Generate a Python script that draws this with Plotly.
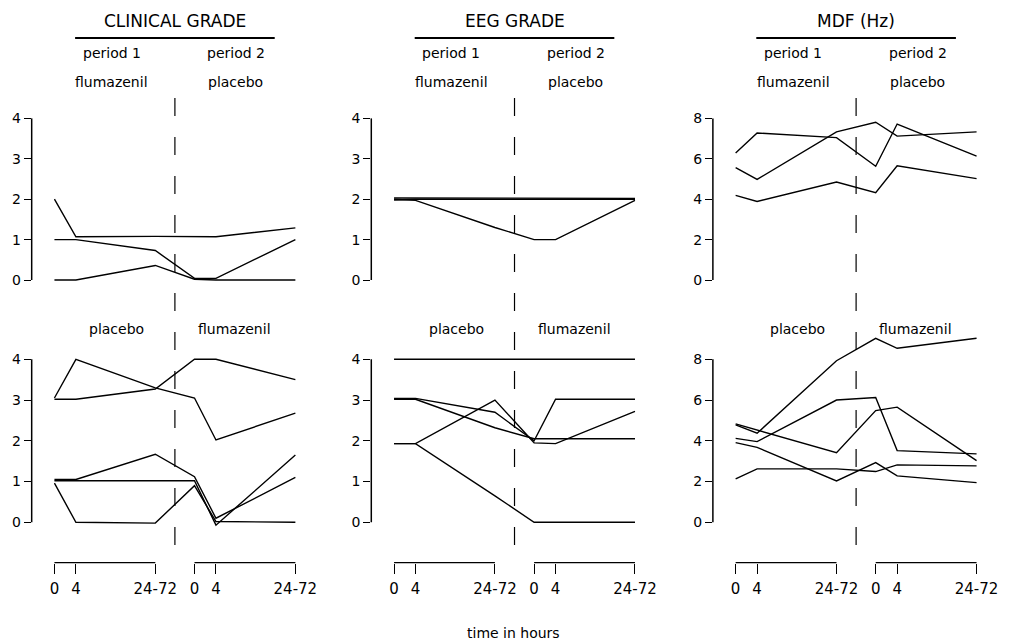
import plotly.graph_objects as go

W, H = 1012, 643

# ---------------- data ----------------
TIME_LABELS = ["0", "4", "24-72"]
COLUMN_TITLES = ["CLINICAL GRADE", "EEG GRADE", "MDF (Hz)"]
PERIOD_LABELS = ["period 1", "period 2"]
TOP_DRUGS = ["flumazenil", "placebo"]
BOTTOM_DRUGS = ["placebo", "flumazenil"]
X_TITLE = "time in hours"

# each row: period1 (0, 4, 24-72) then period2 (0, 4, 24-72)
clinical_top = [
    [2.00, 1.07, 1.08, 1.07, 1.07, 1.29],
    [1.00, 1.00, 0.73, 0.04, 0.04, 1.00],
    [0.00, 0.00, 0.36, 0.02, 0.00, 0.00],
]
clinical_bottom = [
    [3.05, 4.00, 3.30, 3.05, 2.02, 2.68],
    [3.02, 3.02, 3.27, 4.00, 4.00, 3.50],
    [1.05, 1.05, 1.67, 1.12, 0.10, 1.10],
    [1.02, 1.02, 1.02, 1.02, -0.07, 1.65],
    [0.96, 0.00, -0.02, 0.90, 0.02, 0.00],
]
eeg_top = [
    [2.03, 2.03, 2.03, 2.03, 2.02, 2.02],
    [1.98, 2.00, 2.00, 2.00, 2.00, 2.00],
    [2.00, 1.97, 1.30, 1.00, 1.00, 1.97],
]
eeg_bottom = [
    [4.00, 4.00, 4.00, 4.00, 4.00, 4.00],
    [3.04, 3.04, 2.70, 2.00, 3.02, 3.02],
    [3.02, 3.02, 2.32, 2.05, 2.05, 2.05],
    [1.93, 1.93, 3.00, 1.95, 1.93, 2.72],
    [1.93, 1.93, 0.65, 0.00, 0.00, 0.00],
]
mdf_top = [
    [6.29, 7.28, 7.05, 5.63, 7.72, 6.13],
    [5.56, 4.98, 7.33, 7.81, 7.12, 7.33],
    [4.19, 3.89, 4.85, 4.32, 5.65, 5.02],
]
mdf_bottom = [
    [4.78, 4.37, 7.93, 9.03, 8.54, 9.03],
    [4.12, 3.96, 6.00, 6.12, 3.52, 3.36],
    [4.83, 4.53, 3.42, 5.48, 5.65, 3.03],
    [3.91, 3.68, 2.03, 2.93, 2.28, 1.95],
    [2.13, 2.62, 2.62, 2.49, 2.82, 2.77],
]
Y_TICKS = [[0, 1, 2, 3, 4], [0, 1, 2, 3, 4], [0, 2, 4, 6, 8]]
Y_MAX = [4, 4, 8]

# ---------------- layout geometry ----------------
TIME_X = [0, 4, 18.8]          # horizontal placement of time points in a period
PERIOD2_SHIFT = 26.1
X_POS = TIME_X + [t + PERIOD2_SHIFT for t in TIME_X]
DIVIDER_X = 22.45
X_RANGE = [-4.24, 47.0]
PANEL_LEFT_PX = [32, 375, 720]
PANEL_W_PX = 277.7

TOP_DOM_PX = (100, 300)
TOP_RANGE = [-0.495, 4.455]
BOT_DOM_PX = (335, 562.7)
BOT_RANGE = [-0.991, 4.596]

FONT = "DejaVu Sans"


def py(px):
    return 1 - px / H


def px2(px):
    return px / W


fig = go.Figure()
tops = [clinical_top, eeg_top, mdf_top]
bots = [clinical_bottom, eeg_bottom, mdf_bottom]

layout = dict(
    width=W, height=H, margin=dict(l=0, r=0, t=0, b=0),
    paper_bgcolor="white", plot_bgcolor="white", showlegend=False,
    font=dict(family=FONT, color="black"),
)
shapes = []
annotations = []

for c in range(3):
    xid = "x" if c == 0 else f"x{c + 1}"
    xname = "xaxis" if c == 0 else f"xaxis{c + 1}"
    bot_id = f"y{2 * c + 1}" if c else "y"
    top_id = f"y{2 * c + 2}"
    bot_name = "yaxis" if c == 0 else f"yaxis{2 * c + 1}"
    top_name = f"yaxis{2 * c + 2}"
    scale = Y_MAX[c] / 4

    for series in tops[c]:
        fig.add_trace(go.Scatter(x=X_POS, y=series, mode="lines",
                                 line=dict(color="black", width=1.4),
                                 xaxis=xid, yaxis=top_id, hoverinfo="skip"))
    for series in bots[c]:
        fig.add_trace(go.Scatter(x=X_POS, y=series, mode="lines",
                                 line=dict(color="black", width=1.4),
                                 xaxis=xid, yaxis=bot_id, hoverinfo="skip"))

    dom_x = [px2(PANEL_LEFT_PX[c]), px2(PANEL_LEFT_PX[c] + PANEL_W_PX)]
    layout[xname] = dict(
        domain=dom_x, range=X_RANGE, anchor=bot_id,
        showline=False, showgrid=False, zeroline=False,
        ticks="outside", ticklen=10, tickwidth=1.3, tickcolor="black",
        tickvals=X_POS, ticktext=TIME_LABELS + TIME_LABELS,
        tickfont=dict(size=15, family=FONT), ticklabelstandoff=2,
    )
    yax_common = dict(
        anchor=xid, showline=False, showgrid=False, zeroline=False,
        ticks="outside", ticklen=7, tickwidth=1.3, tickcolor="black",
        tickvals=Y_TICKS[c], tickfont=dict(size=14, family=FONT),
    )
    layout[top_name] = dict(
        domain=[py(TOP_DOM_PX[1]), py(TOP_DOM_PX[0])],
        range=[v * scale for v in TOP_RANGE], **yax_common)
    layout[bot_name] = dict(
        domain=[py(BOT_DOM_PX[1]), py(BOT_DOM_PX[0])],
        range=[v * scale for v in BOT_RANGE], **yax_common)

    # vertical y-axis lines (span 0..max only)
    for yid in (top_id, bot_id):
        shapes.append(dict(type="line", xref="paper", yref=yid,
                           x0=dom_x[0], x1=dom_x[0], y0=0, y1=Y_MAX[c],
                           line=dict(color="black", width=1.5)))
    # time-axis brackets
    for p in range(2):
        shapes.append(dict(type="line", xref=xid, yref="paper",
                           x0=X_POS[3 * p], x1=X_POS[3 * p + 2],
                           y0=py(BOT_DOM_PX[1]), y1=py(BOT_DOM_PX[1]),
                           line=dict(color="black", width=1.3)))
    # dashed divider
    shapes.append(dict(type="line", xref=xid, yref="paper",
                       x0=DIVIDER_X, x1=DIVIDER_X, y0=py(98), y1=py(562),
                       line=dict(color="black", width=1.2, dash="18px,21px")))
    # header underline
    shapes.append(dict(type="line", xref=xid, yref="paper",
                       x0=DIVIDER_X - 18.6, x1=DIVIDER_X + 18.6,
                       y0=py(38), y1=py(38),
                       line=dict(color="black", width=2)))

    annotations.append(dict(text=COLUMN_TITLES[c], xref=xid, yref="paper",
                            x=DIVIDER_X, y=py(21), showarrow=False,
                            xanchor="center", yanchor="middle",
                            font=dict(size=17, family=FONT)))
    for p, xc in enumerate([10.7, 33.9]):
        annotations.append(dict(text=PERIOD_LABELS[p], xref=xid, yref="paper",
                                x=xc, y=py(52.5), showarrow=False,
                                xanchor="center", yanchor="middle",
                                font=dict(size=14, family=FONT)))
    for p, xc in enumerate([10.7, 33.8]):
        annotations.append(dict(text=TOP_DRUGS[p], xref=xid, yref="paper",
                                x=xc, y=py(82), showarrow=False,
                                xanchor="center", yanchor="middle",
                                font=dict(size=14, family=FONT)))
    for p, xc in enumerate([11.6, 33.6]):
        annotations.append(dict(text=BOTTOM_DRUGS[p], xref=xid, yref="paper",
                                x=xc, y=py(329), showarrow=False,
                                xanchor="center", yanchor="middle",
                                font=dict(size=14, family=FONT)))

annotations.append(dict(text=X_TITLE, xref="paper", yref="paper",
                        x=px2(519), y=py(633), showarrow=False,
                        xanchor="center", yanchor="middle",
                        font=dict(size=14, family=FONT)))

layout["shapes"] = shapes
layout["annotations"] = annotations
fig.update_layout(**layout)
fig.write_html("out.html")
